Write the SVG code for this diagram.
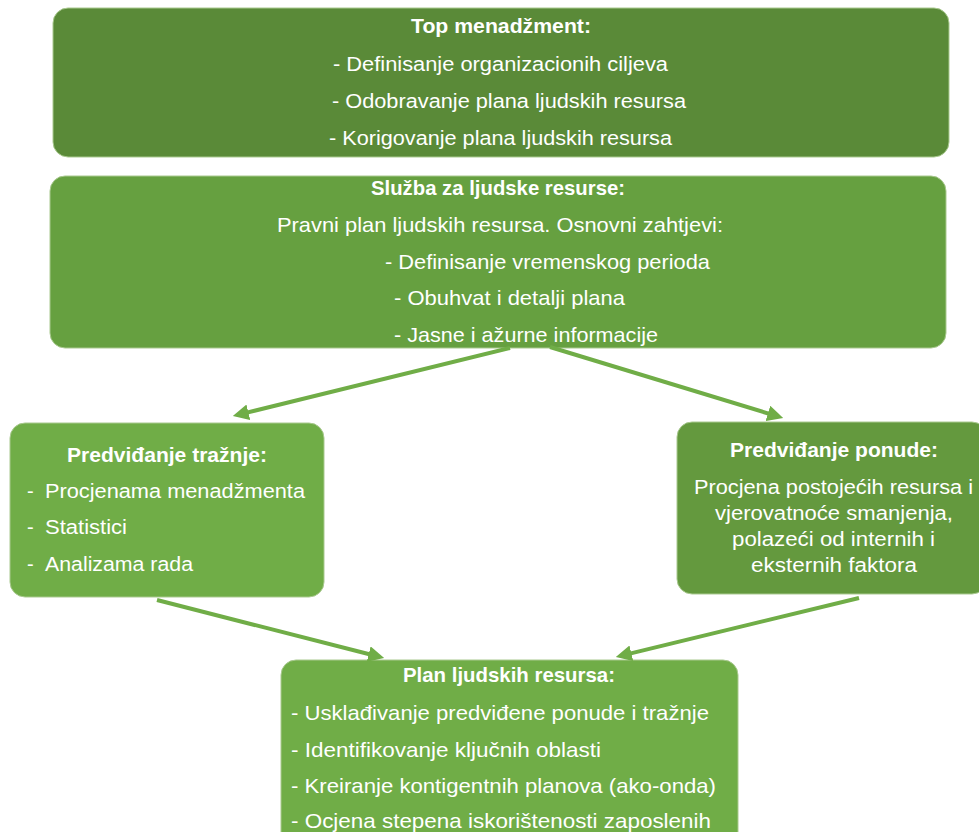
<svg xmlns="http://www.w3.org/2000/svg" width="979" height="832" viewBox="0 0 979 832">
<style>
.box{stroke:#a9c98f;stroke-width:1}
text{font-family:"Liberation Sans",Arial,sans-serif;fill:#ffffff;font-size:20px}
.b{font-weight:bold}
.tall{font-size:21px}
.conn line{stroke:#70ad47;stroke-width:4;fill:none}
</style>
<defs>
<marker id="arr" viewBox="0 0 10 10" refX="3" refY="5" markerWidth="16" markerHeight="16" markerUnits="userSpaceOnUse" orient="auto">
<path d="M0,0 L10,5 L0,10 z" fill="#70ad47"/>
</marker>
</defs>
<rect width="979" height="832" fill="#ffffff"/>
<g id="top">
<rect class="box" x="53" y="8" width="896" height="149" rx="15" fill="#5a8a38"/>
<text class="b" x="411" y="33" textLength="180" lengthAdjust="spacingAndGlyphs">Top menadžment:</text>
<text x="333" y="71" textLength="335" lengthAdjust="spacingAndGlyphs">- Definisanje organizacionih ciljeva</text>
<text x="332" y="108" textLength="354" lengthAdjust="spacingAndGlyphs">- Odobravanje plana ljudskih resursa</text>
<text x="329" y="145" textLength="343" lengthAdjust="spacingAndGlyphs">- Korigovanje plana ljudskih resursa</text>
</g>
<g id="hr">
<rect class="box" x="50" y="176" width="896" height="172" rx="15" fill="#66a040"/>
<text class="b tall" x="371" y="195" textLength="254" lengthAdjust="spacingAndGlyphs">Služba za ljudske resurse:</text>
<text class="tall" x="277" y="232" textLength="446" lengthAdjust="spacingAndGlyphs">Pravni plan ljudskih resursa. Osnovni zahtjevi:</text>
<text class="tall" x="385" y="269" textLength="325" lengthAdjust="spacingAndGlyphs">- Definisanje vremenskog perioda</text>
<text class="tall" x="394" y="305" textLength="231" lengthAdjust="spacingAndGlyphs">- Obuhvat i detalji plana</text>
<text class="tall" x="394" y="342" textLength="264" lengthAdjust="spacingAndGlyphs">- Jasne i ažurne informacije</text>
</g>
<g id="demand">
<rect class="box" x="10" y="423" width="314" height="174" rx="15" fill="#70ad47"/>
<text class="b" x="67" y="462" textLength="200" lengthAdjust="spacingAndGlyphs">Predviđanje tražnje:</text>
<text x="27" y="498">-</text>
<text x="45" y="498" textLength="260" lengthAdjust="spacingAndGlyphs">Procjenama menadžmenta</text>
<text x="27" y="534">-</text>
<text x="45" y="534" textLength="82" lengthAdjust="spacingAndGlyphs">Statistici</text>
<text x="27" y="571">-</text>
<text x="45" y="571" textLength="148" lengthAdjust="spacingAndGlyphs">Analizama rada</text>
</g>
<g id="supply">
<rect class="box" x="677" y="422" width="310" height="172" rx="15" fill="#64993e"/>
<text class="b" x="730" y="457" textLength="208" lengthAdjust="spacingAndGlyphs">Predviđanje ponude:</text>
<text x="694" y="494" textLength="279" lengthAdjust="spacingAndGlyphs">Procjena postojećih resursa i</text>
<text x="715" y="520" textLength="238" lengthAdjust="spacingAndGlyphs">vjerovatnoće smanjenja,</text>
<text x="732" y="546" textLength="203" lengthAdjust="spacingAndGlyphs">polazeći od internih i</text>
<text x="751" y="572" textLength="166" lengthAdjust="spacingAndGlyphs">eksternih faktora</text>
</g>
<g id="plan">
<rect class="box" x="281" y="660" width="457" height="200" rx="15" fill="#70ad47"/>
<text class="b tall" x="403" y="682" textLength="212" lengthAdjust="spacingAndGlyphs">Plan ljudskih resursa:</text>
<text class="tall" x="291" y="720" textLength="418" lengthAdjust="spacingAndGlyphs">- Usklađivanje predviđene ponude i tražnje</text>
<text class="tall" x="291" y="757" textLength="310" lengthAdjust="spacingAndGlyphs">- Identifikovanje ključnih oblasti</text>
<text class="tall" x="291" y="793" textLength="425" lengthAdjust="spacingAndGlyphs">- Kreiranje kontigentnih planova (ako-onda)</text>
<text class="tall" x="291" y="828" textLength="420" lengthAdjust="spacingAndGlyphs">- Ocjena stepena iskorištenosti zaposlenih</text>
</g>
<g class="conn" id="connectors">
<line x1="510" y1="348" x2="243.7" y2="413.4" marker-end="url(#arr)"/>
<line x1="550" y1="347" x2="772.5" y2="414.8" marker-end="url(#arr)"/>
<line x1="157" y1="600" x2="373.3" y2="655.3" marker-end="url(#arr)"/>
<line x1="859" y1="598" x2="626.7" y2="654.4" marker-end="url(#arr)"/>
</g>
</svg>
